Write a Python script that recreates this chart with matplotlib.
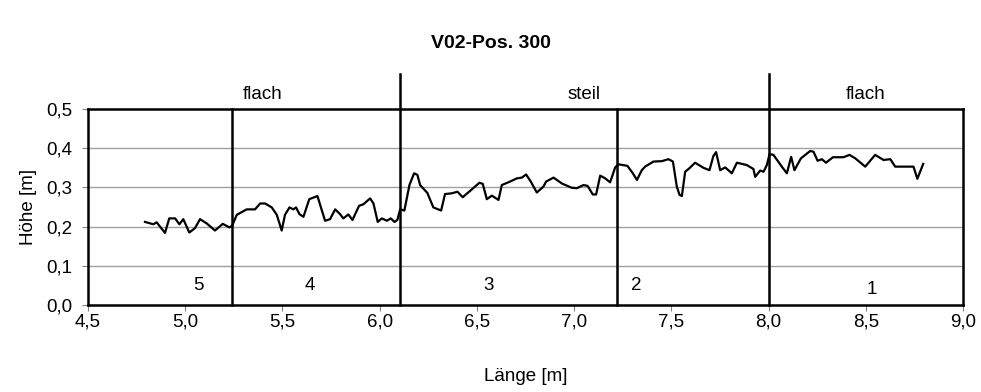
import matplotlib
matplotlib.use("Agg")
import matplotlib.pyplot as plt

plt.rcParams['font.family'] = ['Liberation Sans', 'DejaVu Sans']

# --- Profildaten V02, Pos. 300 ---
laenge = [4.793, 4.836, 4.853, 4.896, 4.918, 4.948, 4.970, 4.990, 5.021, 5.050,
          5.076, 5.111, 5.153, 5.193, 5.227, 5.241, 5.265, 5.316, 5.359, 5.385,
          5.411, 5.445, 5.471, 5.496, 5.513, 5.536, 5.556, 5.570, 5.587, 5.608,
          5.638, 5.680, 5.719, 5.745, 5.771, 5.796, 5.813, 5.839, 5.860, 5.894,
          5.916, 5.951, 5.968, 5.990, 6.011, 6.037, 6.057, 6.076, 6.091, 6.105,
          6.127, 6.153, 6.177, 6.194, 6.208, 6.245, 6.276, 6.316, 6.336, 6.371,
          6.400, 6.427, 6.474, 6.513, 6.530, 6.551, 6.577, 6.611, 6.628, 6.671,
          6.705, 6.731, 6.753, 6.777, 6.808, 6.842, 6.856, 6.894, 6.937, 6.988,
          7.014, 7.048, 7.069, 7.096, 7.113, 7.134, 7.160, 7.185, 7.211, 7.228,
          7.274, 7.302, 7.323, 7.348, 7.365, 7.408, 7.451, 7.485, 7.508, 7.528,
          7.542, 7.554, 7.571, 7.593, 7.622, 7.665, 7.696, 7.716, 7.730, 7.751,
          7.777, 7.811, 7.837, 7.871, 7.888, 7.922, 7.931, 7.957, 7.974, 7.991,
          8.005, 8.025, 8.068, 8.094, 8.116, 8.133, 8.166, 8.214, 8.231, 8.252,
          8.274, 8.295, 8.331, 8.385, 8.416, 8.446, 8.497, 8.548, 8.591, 8.626,
          8.651, 8.700, 8.745, 8.765, 8.795]
hoehe = [0.212, 0.206, 0.211, 0.184, 0.221, 0.221, 0.206, 0.219, 0.185, 0.196,
         0.219, 0.208, 0.190, 0.207, 0.198, 0.202, 0.230, 0.244, 0.244, 0.259,
         0.259, 0.249, 0.230, 0.190, 0.230, 0.249, 0.244, 0.249, 0.232, 0.225,
         0.270, 0.278, 0.215, 0.219, 0.244, 0.232, 0.221, 0.231, 0.217, 0.253,
         0.257, 0.272, 0.259, 0.212, 0.221, 0.215, 0.221, 0.212, 0.217, 0.244,
         0.241, 0.306, 0.336, 0.332, 0.306, 0.286, 0.249, 0.241, 0.283, 0.285,
         0.289, 0.275, 0.295, 0.312, 0.309, 0.270, 0.279, 0.268, 0.306, 0.315,
         0.323, 0.325, 0.333, 0.315, 0.287, 0.302, 0.315, 0.325, 0.310, 0.299,
         0.298, 0.306, 0.304, 0.282, 0.282, 0.330, 0.323, 0.313, 0.351, 0.359,
         0.355, 0.336, 0.319, 0.344, 0.353, 0.366, 0.367, 0.372, 0.366, 0.302,
         0.281, 0.278, 0.340, 0.349, 0.363, 0.350, 0.344, 0.380, 0.390, 0.344,
         0.351, 0.336, 0.363, 0.359, 0.357, 0.347, 0.327, 0.343, 0.340, 0.357,
         0.385, 0.383, 0.353, 0.336, 0.378, 0.344, 0.374, 0.393, 0.391, 0.368,
         0.372, 0.363, 0.377, 0.377, 0.383, 0.374, 0.353, 0.383, 0.370, 0.372,
         0.353, 0.353, 0.353, 0.322, 0.360]

# Abschnittsgrenzen (lange Linien reichen über das Diagramm hinaus)
grenzen = [5.24, 6.105, 7.222, 8.003]
grenzen_lang = [6.105, 8.003]

# Abschnittsnummern und Neigungsbereiche
abschnitt_x = [5.07, 5.64, 6.56, 7.32, 8.53]
abschnitt_y = [0.051, 0.051, 0.051, 0.051, 0.040]
abschnitt_txt = ["5", "4", "3", "2", "1"]
bereich_x = [5.40, 7.05, 8.50]
bereich_txt = ["flach", "steil", "flach"]

fs = 13.5

fig = plt.figure(figsize=(9.81, 3.92), dpi=100)
ax = fig.add_axes([0.0897, 0.2219, 0.8920, 0.5000])

ax.set_xlim(4.5, 9.0)
ax.set_ylim(0.0, 0.5)
ax.set_xticks([4.5, 5.0, 5.5, 6.0, 6.5, 7.0, 7.5, 8.0, 8.5, 9.0])
ax.set_yticks([0.0, 0.1, 0.2, 0.3, 0.4, 0.5])
ax.set_xticklabels([f"{v:.1f}".replace(".", ",") for v in ax.get_xticks()])
ax.set_yticklabels([f"{v:.1f}".replace(".", ",") for v in ax.get_yticks()])
ax.tick_params(axis="both", labelsize=fs, direction="out", length=4,
               width=0.8, color="#808080")
ax.tick_params(axis="x", pad=2)
ax.tick_params(axis="y", pad=7)

for v in [0.1, 0.2, 0.3, 0.4]:
    ax.axhline(v, color="#a0a0a0", lw=1.0, zorder=1)

for s in ax.spines.values():
    s.set_linewidth(1.8)
    s.set_color("black")

ax.plot(laenge, hoehe, color="black", lw=1.6, zorder=3)

for g in grenzen:
    top = 0.59 if g in grenzen_lang else 0.5
    ax.plot([g, g], [0.0, top], color="black", lw=1.8, clip_on=False, zorder=4)

for x, y, t in zip(abschnitt_x, abschnitt_y, abschnitt_txt):
    ax.text(x, y, t, ha="center", va="center", fontsize=fs)

for x, t in zip(bereich_x, bereich_txt):
    ax.text(x, 0.536, t, ha="center", va="center", fontsize=fs)

ax.set_xlabel("Länge [m]", fontsize=fs, labelpad=27)
ax.set_ylabel("Höhe [m]", fontsize=fs, labelpad=7)
fig.text(0.5, 0.89, "V02-Pos. 300", ha="center", va="center",
         fontsize=14, fontweight="bold")

fig.savefig("out.png", dpi=100)
